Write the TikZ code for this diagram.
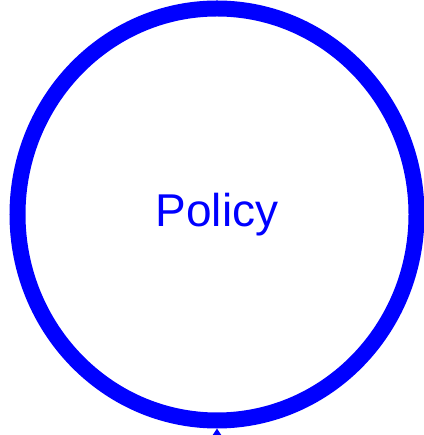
\documentclass[tikz,border=0pt]{standalone}
\usepackage{fontspec}
\setmainfont{Liberation Sans}
\usetikzlibrary{arrows.meta,shapes.geometric}
\definecolor{pblue}{RGB}{0,0,255}
\tikzset{
  policycircle/.style={ellipse, draw=pblue, line width=16pt, minimum width=399pt, minimum height=412pt, inner sep=0pt, text=pblue, font=\fontsize{46}{55}\selectfont},
  inarrow/.style={draw=pblue, line width=3pt, -{Triangle[length=8pt,width=10pt]}}
}
\begin{document}
\begin{tikzpicture}[x=1pt,y=1pt]
\useasboundingbox (0,0) rectangle (423,435);
\node[policycircle] (policy) at (217,220.5) {Policy};
\coordinate (src) at (217,-40);
\draw[inarrow] (src) -- (policy.south);
\end{tikzpicture}
\end{document}
